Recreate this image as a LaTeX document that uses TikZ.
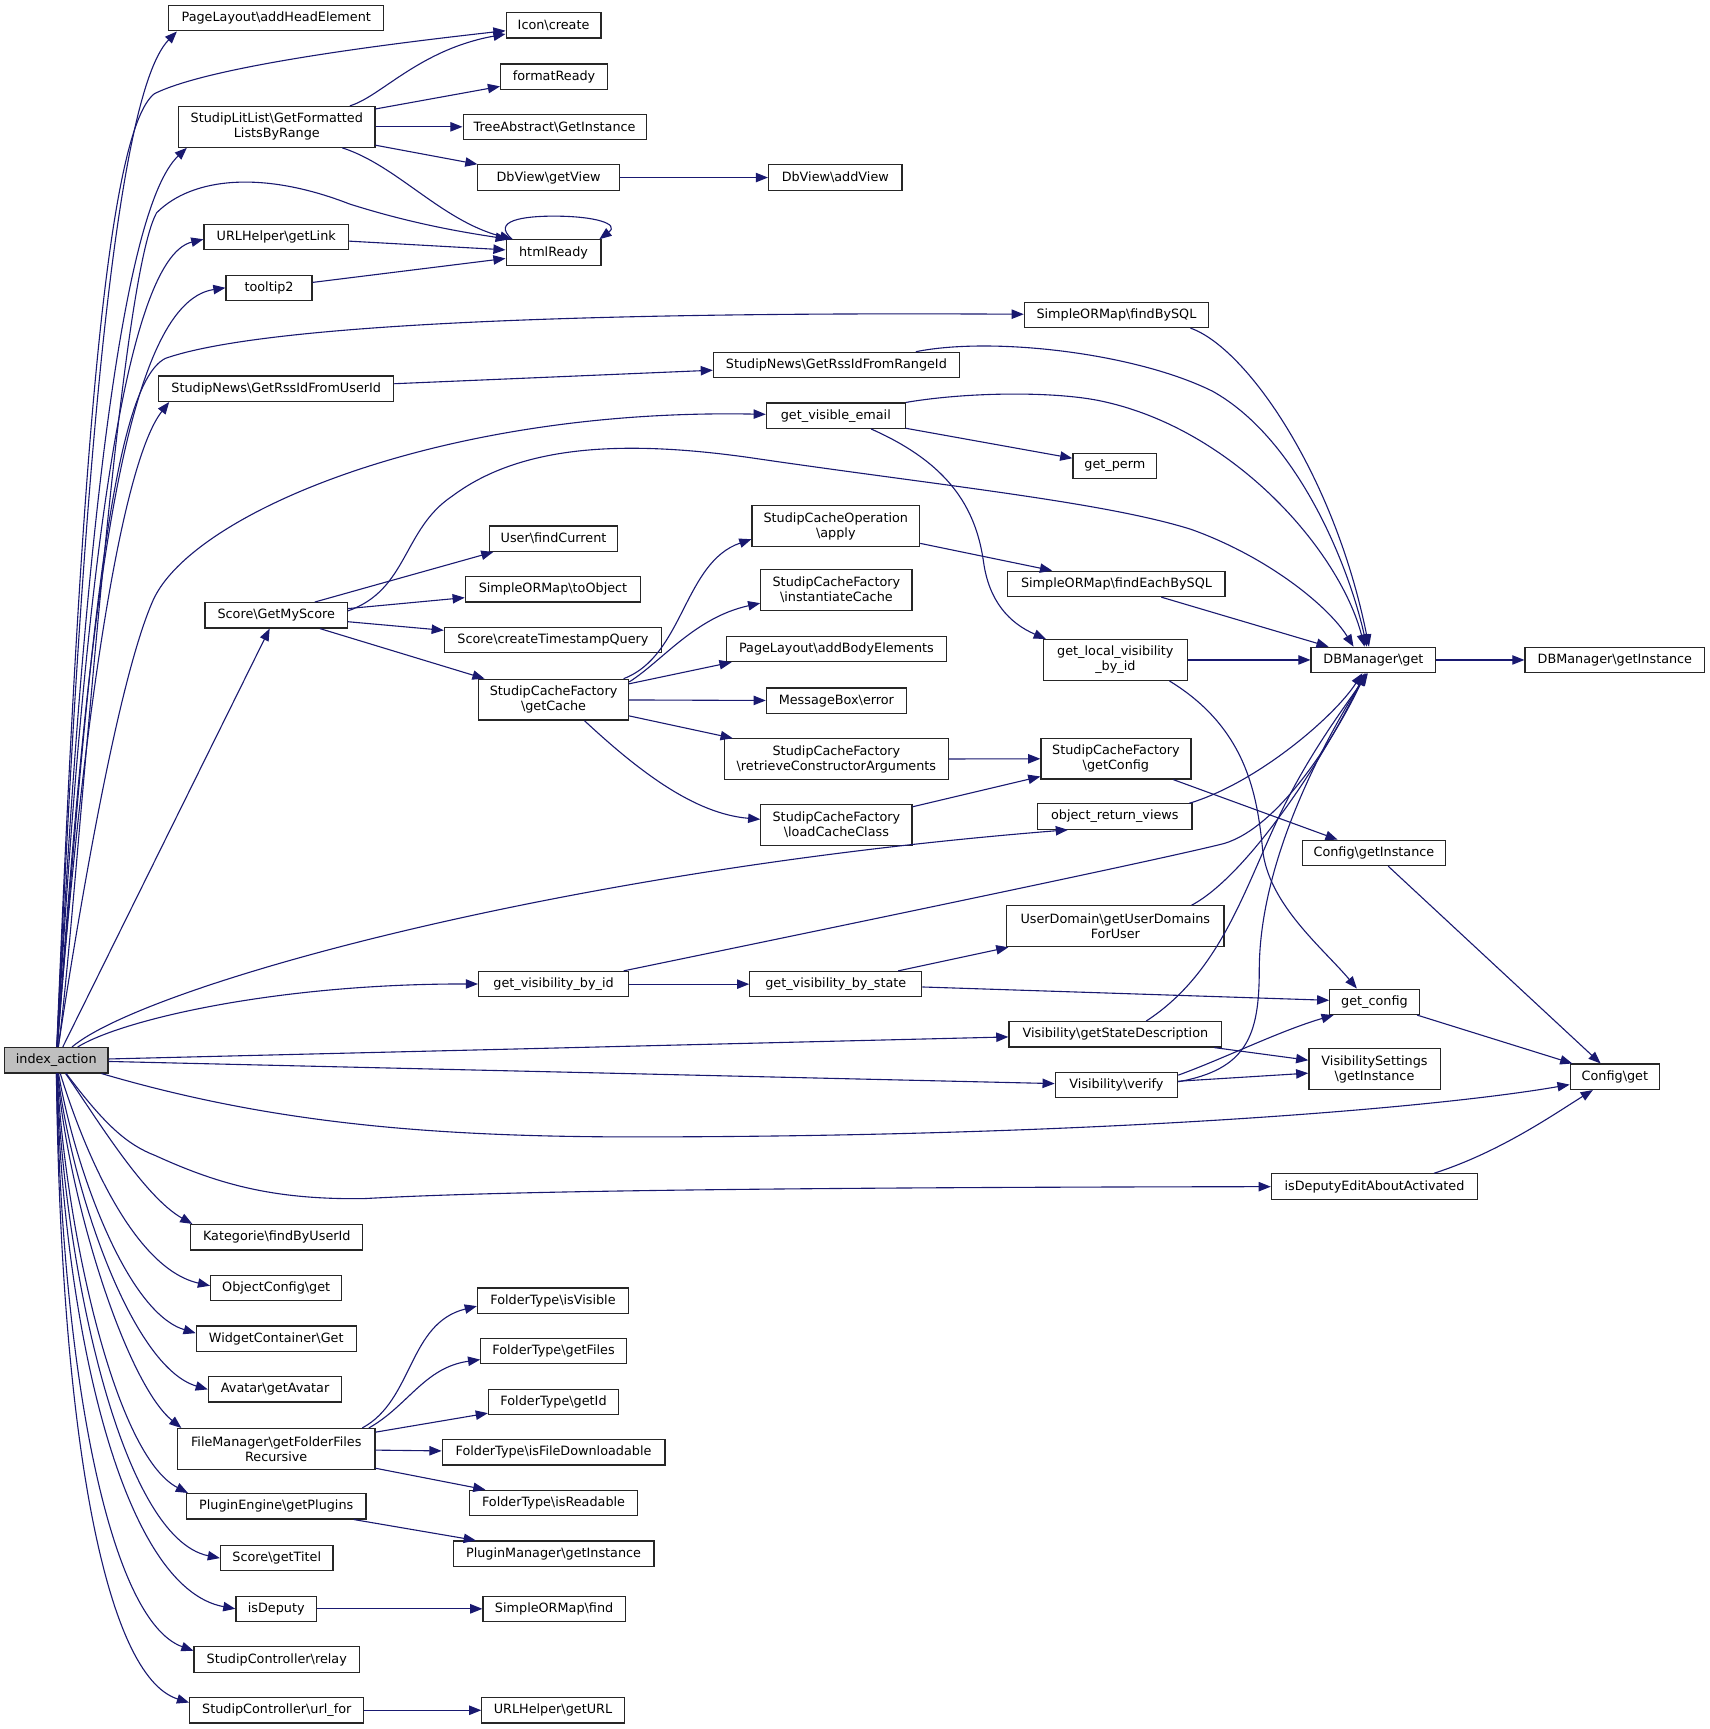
\documentclass[tikz,border=0pt]{standalone}
\usepackage{fontspec}
\setmainfont{DejaVu Sans}
\usetikzlibrary{arrows.meta}
\definecolor{mblue}{RGB}{25,25,112}
\newcommand\nodefont{\fontsize{11.6}{13.6}\selectfont}
\tikzset{
  box/.style={draw=black!85, line width=1.1pt, fill=white, rectangle, inner sep=0pt,
    minimum height=23pt, align=center, font=\nodefont},
  tall/.style={minimum height=37pt},
  call/.style={draw=mblue, line width=1pt, -{Triangle[length=11pt,width=8.5pt]}},
}
\begin{document}
\begin{tikzpicture}[x=1pt,y=-1pt]
\useasboundingbox[fill=white] (0,0) rectangle (1550,1568);
% nodes
\node[box,fill=gray!50,minimum width=94] (A) at (51,961.5) {index\_action};
\node[box,minimum width=195] (plhead) at (250.5,16.5) {PageLayout\textbackslash addHeadElement};
\node[box,minimum width=86] (icon) at (502,23) {Icon\textbackslash create};
\node[box,minimum width=97] (fmt) at (502.5,69.5) {formatReady};
\node[box,tall,minimum width=178] (lit) at (251,115) {StudipLitList\textbackslash GetFormatted\\ListsByRange};
\node[box,minimum width=166] (tree) at (503,115) {TreeAbstract\textbackslash GetInstance};
\node[box,minimum width=129] (getview) at (497.5,161) {DbView\textbackslash getView};
\node[box,minimum width=121] (addview) at (757.5,161) {DbView\textbackslash addView};
\node[box,minimum width=131] (getlink) at (250.5,215) {URLHelper\textbackslash getLink};
\node[box,minimum width=86] (html) at (502,229) {htmlReady};
\node[box,minimum width=78] (tooltip) at (244,261) {tooltip2};
\node[box,minimum width=167] (findbysql) at (1012.5,285.5) {SimpleORMap\textbackslash findBySQL};
\node[box,minimum width=223] (rangeid) at (758.5,331) {StudipNews\textbackslash GetRssIdFromRangeId};
\node[box,minimum width=213] (userid) at (250.5,352.5) {StudipNews\textbackslash GetRssIdFromUserId};
\node[box,minimum width=126] (gve) at (758,377) {get\_visible\_email};
\node[box,minimum width=76] (perm) at (1011,422.5) {get\_perm};
\node[box,minimum width=116] (findcur) at (502,488.5) {User\textbackslash findCurrent};
\node[box,tall,minimum width=152] (apply) at (758,477) {StudipCacheOperation\\\textbackslash apply};
\node[box,minimum width=159] (toobj) at (501.5,534.5) {SimpleORMap\textbackslash toObject};
\node[box,tall,minimum width=137] (inst) at (758.5,535) {StudipCacheFactory\\\textbackslash instantiateCache};
\node[box,minimum width=197] (feach) at (1012.5,529.5) {SimpleORMap\textbackslash findEachBySQL};
\node[box,minimum width=129] (gms) at (250.5,558) {Score\textbackslash GetMyScore};
\node[box,minimum width=197] (cts) at (501.5,580.5) {Score\textbackslash createTimestampQuery};
\node[box,minimum width=199] (addbody) at (758.5,588.5) {PageLayout\textbackslash addBodyElements};
\node[box,tall,minimum width=131] (glv) at (1011.5,598.5) {get\_local\_visibility\\\_by\_id};
\node[box,minimum width=113] (dbget) at (1245.5,598.5) {DBManager\textbackslash get};
\node[box,minimum width=163] (dbinst) at (1464.5,598.5) {DBManager\textbackslash getInstance};
\node[box,tall,minimum width=136] (getcache) at (502,634.5) {StudipCacheFactory\\\textbackslash getCache};
\node[box,minimum width=127] (msgerr) at (758.5,635.5) {MessageBox\textbackslash error};
\node[box,tall,minimum width=203] (retr) at (758.5,688.5) {StudipCacheFactory\\\textbackslash retrieveConstructorArguments};
\node[box,tall,minimum width=136] (scfcfg) at (1012,688) {StudipCacheFactory\\\textbackslash getConfig};
\node[box,tall,minimum width=137] (load) at (758.5,748) {StudipCacheFactory\\\textbackslash loadCacheClass};
\node[box,minimum width=140] (orv) at (1011,740.5) {object\_return\_views};
\node[box,minimum width=130] (cfginst) at (1246,773.5) {Config\textbackslash getInstance};
\node[box,tall,minimum width=197] (userdom) at (1011.5,840) {UserDomain\textbackslash getUserDomains\\ForUser};
\node[box,minimum width=136] (gvbi) at (502,892.5) {get\_visibility\_by\_id};
\node[box,minimum width=156] (gvbs) at (758,892.5) {get\_visibility\_by\_state};
\node[box,minimum width=81] (getcfg) at (1246.5,908.5) {get\_config};
\node[box,minimum width=193] (vgsd) at (1011.5,938) {Visibility\textbackslash getStateDescription};
\node[box,tall,minimum width=119] (vsinst) at (1246.5,969.5) {VisibilitySettings\\\textbackslash getInstance};
\node[box,minimum width=111] (verify) at (1012.5,984) {Visibility\textbackslash verify};
\node[box,minimum width=81] (cfgget) at (1464.5,976.5) {Config\textbackslash get};
\node[box,minimum width=187] (idea) at (1246.5,1076) {isDeputyEditAboutActivated};
\node[box,minimum width=156] (kat) at (251,1122) {Kategorie\textbackslash findByUserId};
\node[box,minimum width=119] (objcfg) at (250.5,1168) {ObjectConfig\textbackslash get};
\node[box,minimum width=145] (widget) at (250.5,1214) {WidgetContainer\textbackslash Get};
\node[box,minimum width=121] (avatar) at (249.5,1260) {Avatar\textbackslash getAvatar};
\node[box,tall,minimum width=179] (fm) at (250.5,1314) {FileManager\textbackslash getFolderFiles\\Recursive};
\node[box,minimum width=137] (isvis) at (501.5,1179.5) {FolderType\textbackslash isVisible};
\node[box,minimum width=132] (getfiles) at (502,1225) {FolderType\textbackslash getFiles};
\node[box,minimum width=118] (getid) at (502,1271.5) {FolderType\textbackslash getId};
\node[box,minimum width=202] (isfd) at (502,1317) {FolderType\textbackslash isFileDownloadable};
\node[box,minimum width=152] (isread) at (502,1363) {FolderType\textbackslash isReadable};
\node[box,minimum width=163] (plugin) at (250.5,1366) {PluginEngine\textbackslash getPlugins};
\node[box,minimum width=182] (plugmgr) at (502,1409) {PluginManager\textbackslash getInstance};
\node[box,minimum width=102] (titel) at (251,1413) {Score\textbackslash getTitel};
\node[box,minimum width=73] (isdep) at (250.5,1459) {isDeputy};
\node[box,minimum width=129] (find) at (502.5,1459) {SimpleORMap\textbackslash find};
\node[box,minimum width=150] (relay) at (251,1505) {StudipController\textbackslash relay};
\node[box,minimum width=158] (urlfor) at (251,1551) {StudipController\textbackslash url\_for};
\node[box,minimum width=129] (geturl) at (501.5,1551) {URLHelper\textbackslash getURL};
% edges from index_action, upward
\draw[call] (A) .. controls (72,500) and (100,90) .. ([xshift=8]plhead.south west);
\draw[call] (A) .. controls (72,450) and (95,120) .. (140,85) .. controls (190,60) and (350,40) .. (icon);
\draw[call] (A) .. controls (75,500) and (110,190) .. ([xshift=8]lit.south west);
\draw[call] (A) .. controls (68,850) and (105,260) .. (142,193) .. controls (175,160) and (240,155) .. (317,185) .. controls (380,205) and (430,212) .. ([xshift=2]html.north west);
\draw[call] (A) .. controls (75,550) and (110,235) .. ([yshift=-2]getlink.west);
\draw[call] (A) .. controls (80,560) and (110,275) .. (tooltip.west);
\draw[call] (A) .. controls (80,600) and (100,350) .. (150,325) .. controls (250,290) and (600,283) .. (findbysql);
\draw[call] (A) .. controls (75,650) and (110,420) .. ([xshift=10]userid.south west);
\draw[call] (A) .. controls (68,850) and (105,620) .. (139,544) .. controls (175,465) and (400,370) .. (gve);
\draw[call] (A) -- (gms);
% edges from index_action, right
\draw[call] (A) .. controls (130,895) and (500,790) .. ([xshift=28]orv.south west);
\draw[call] (A) .. controls (110,925) and (250,892) .. (gvbi);
\draw[call] (A) -- (vgsd);
\draw[call] (A) -- (verify);
\draw[call] (A) .. controls (250,1020) and (400,1032) .. (600,1031) .. controls (1000,1030) and (1300,1005) .. (cfgget);
\draw[call] (A) .. controls (95,1020) and (115,1038) .. (141,1048) .. controls (200,1075) and (250,1088) .. (330,1087) .. controls (420,1082) and (600,1077) .. (idea);
% edges from index_action, downward
\draw[call] (A) .. controls (85,1010) and (130,1085) .. ([xshift=2]kat.north west);
\draw[call] (A) .. controls (75,1040) and (120,1150) .. ([yshift=2]objcfg.west);
\draw[call] (A) .. controls (68,1060) and (115,1190) .. ([yshift=5]widget.west);
\draw[call] (A) .. controls (65,1080) and (120,1240) .. (avatar.west);
\draw[call] (A) .. controls (62,1090) and (115,1255) .. ([xshift=4]fm.north west);
\draw[call] (A) .. controls (60,1120) and (105,1320) .. ([xshift=2]plugin.north west);
\draw[call] (A) .. controls (58,1150) and (110,1395) .. (titel.west);
\draw[call] (A) .. controls (57,1200) and (110,1440) .. (isdep.west);
\draw[call] (A) .. controls (56,1250) and (100,1470) .. ([yshift=8]relay.west);
\draw[call] (A) .. controls (55,1300) and (95,1520) .. ([yshift=7]urlfor.west);
% other edges
\draw[call] (lit) .. controls (345,88) and (380,45) .. (icon);
\draw[call] (lit) -- (fmt);
\draw[call] (lit) -- (tree);
\draw[call] (lit) -- (getview);
\draw[call] (lit) .. controls (360,150) and (400,200) .. ([xshift=6]html.north west);
\draw[call] (getview) -- (addview);
\draw[call] (getlink) -- (html);
\draw[call] (tooltip) -- (html);
\draw[call] ([xshift=6]html.north west) .. controls (445,200) and (475,196) .. (502,196) .. controls (540,196) and (562,203) .. ([xshift=-2]html.north east);
\draw[call] (userid) -- (rangeid);
\draw[call] ([xshift=-17]findbysql.south east) .. controls (1130,315) and (1210,430) .. ([xshift=-4]dbget.north);
\draw[call] ([xshift=-40]rangeid.north east) .. controls (900,305) and (1030,320) .. (1100,355) .. controls (1180,400) and (1225,520) .. ([xshift=-6]dbget.north);
\draw[call] (gve.north east) .. controls (880,355) and (960,355) .. (1000,364) .. controls (1120,390) and (1215,500) .. ([xshift=-8]dbget.north);
\draw[call] (gve) -- (perm);
\draw[call] ([xshift=32]gve.south) .. controls (860,420) and (885,460) .. (892,510) .. controls (897,545) and (915,565) .. ([xshift=3]glv.north west);
\draw[call] ([xshift=-30]gms.north east) -- ([xshift=4]findcur.south west);
\draw[call] (gms) -- (toobj);
\draw[call] (gms) -- (cts);
\draw[call] (gms) -- (getcache);
\draw[call] ([yshift=4]gms.east) .. controls (370,535) and (365,480) .. (410,450) .. controls (470,405) and (560,398) .. (680,415) .. controls (850,440) and (1000,455) .. (1080,480) .. controls (1150,505) and (1205,550) .. ([xshift=-18]dbget.north);
\draw[call] ([xshift=-5]getcache.north east) .. controls (620,595) and (620,510) .. ([yshift=-12]apply.west);
\draw[call] ([yshift=-3]getcache.north east) .. controls (600,600) and (630,560) .. ([yshift=-12]inst.west);
\draw[call] (getcache) -- ([xshift=5]addbody.south west);
\draw[call] (getcache) -- (msgerr);
\draw[call] (getcache) -- ([xshift=8]retr.north west);
\draw[call] ([xshift=28]getcache.south) .. controls (580,700) and (630,738) .. ([yshift=5]load.west);
\draw[call] (apply) -- (feach);
\draw[call] (feach) -- (dbget);
\draw[call] (glv) -- (dbget);
\draw[call] ([xshift=-17]glv.south east) .. controls (1130,660) and (1140,720) .. (1145,770) .. controls (1150,820) and (1200,860) .. ([xshift=-16]getcfg.north);
\draw[call] (dbget) -- (dbinst);
\draw[call] (retr) -- (scfcfg);
\draw[call] (load) -- (scfcfg);
\draw[call] (scfcfg) -- (cfginst);
\draw[call] ([xshift=-3]orv.north east) .. controls (1140,710) and (1210,650) .. ([xshift=-10]dbget.south);
\draw[call] (cfginst) -- (cfgget);
\draw[call] ([xshift=-30]userdom.north east) .. controls (1130,795) and (1200,690) .. ([xshift=-8]dbget.south);
\draw[call] ([xshift=-5]gvbi.north east) .. controls (800,832) and (1050,780) .. (1110,765) .. controls (1160,750) and (1210,670) .. ([xshift=-7]dbget.south);
\draw[call] (gvbi) -- (gvbs);
\draw[call] ([xshift=-22]gvbs.north east) -- ([xshift=2]userdom.south west);
\draw[call] (gvbs) -- (getcfg);
\draw[call] (getcfg) -- (cfgget);
\draw[call] ([xshift=28]vgsd.north) .. controls (1110,880) and (1130,800) .. (1165,730) .. controls (1190,680) and (1220,640) .. ([xshift=-5]dbget.south);
\draw[call] (vgsd) -- (vsinst);
\draw[call] ([yshift=3]verify.east) .. controls (1130,970) and (1142,940) .. (1142,880) .. controls (1142,790) and (1190,690) .. ([xshift=-6]dbget.south);
\draw[call] ([yshift=9]verify.east) .. controls (1110,960) and (1160,935) .. ([xshift=4]getcfg.south west);
\draw[call] (verify) -- (vsinst);
\draw[call] ([xshift=-40]idea.north east) .. controls (1360,1045) and (1410,1010) .. ([xshift=-20]cfgget.south);
\draw[call] ([xshift=-12]fm.north east) .. controls (375,1270) and (370,1200) .. ([yshift=-5]isvis.west);
\draw[call] ([xshift=-6]fm.north east) .. controls (370,1275) and (385,1240) .. ([yshift=-8]getfiles.west);
\draw[call] (fm) -- (getid);
\draw[call] (fm) -- (isfd);
\draw[call] (fm) -- (isread);
\draw[call] (plugin) -- (plugmgr);
\draw[call] (isdep) -- (find);
\draw[call] (urlfor) -- (geturl);
\end{tikzpicture}
\end{document}
